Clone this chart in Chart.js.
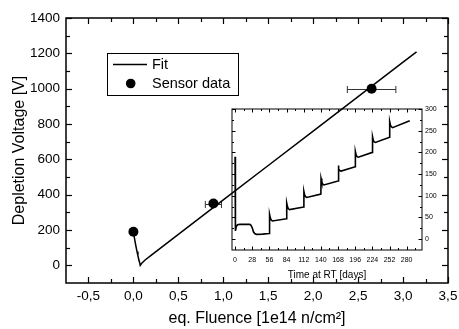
<!DOCTYPE html>
<html><head><meta charset="utf-8">
<script src="https://cdn.jsdelivr.net/npm/chart.js@4.4.0/dist/chart.umd.min.js"></script>
<style>
html,body{margin:0;padding:0;background:#fff;}
#wrap{position:relative;width:459px;height:329px;background:#fff;}
canvas{position:absolute;left:0;top:0;}
</style>
</head><body>
<div id="wrap"><canvas id="main" width="459" height="329"></canvas><canvas id="inset" width="459" height="329"></canvas></div>
<script>
// ---- data ----
const fitFluence = [0, 0.01, 0.02, 0.03, 0.04, 0.05, 0.06, 0.07, 0.076, 0.09, 0.11, 0.13, 0.2, 0.5, 1.0, 1.5, 2.0, 2.5, 3.0, 3.15];
const fitVoltage = [190, 158, 130, 103, 78, 55, 34, 14, 0, 10, 20, 30, 58, 175, 370, 565, 760, 955, 1150, 1208];
const sensorFluence = [0, 0.89, 2.65];
const sensorVoltage = [190, 350, 1000];
const sensorFluenceErr = [0, 0.09, 0.27];
const xTickValues = [-0.5, 0, 0.5, 1, 1.5, 2, 2.5, 3, 3.5];
const xTickLabels = ['-0,5', '0,0', '0,5', '1,0', '1,5', '2,0', '2,5', '3,0', '3,5'];
const xMinorValues = [-0.25, 0.25, 0.75, 1.25, 1.75, 2.25, 2.75, 3.25];
const yTickValues = [0, 200, 400, 600, 800, 1000, 1200, 1400];
const yMinorValues = [100, 300, 500, 700, 900, 1100, 1300];

const insetDays = [0, 0.6, 2, 4, 8, 24, 26, 28, 30, 32, 35, 45, 56,
  56.3, 57.5, 59, 61, 84,
  84.3, 85.5, 87, 89, 112,
  112.3, 113.5, 115, 117, 140,
  140.3, 141.5, 143, 145, 168,
  168.3, 169.5, 171, 173, 196,
  196.3, 197.5, 199, 201, 224,
  224.3, 225.5, 227, 229, 252,
  252.3, 253.5, 255, 257, 285];
const insetVoltage = [190, 19, 29, 33, 34, 34, 32, 26, 17, 13, 11, 11.5, 13,
  57, 49, 44, 42, 47,
  83, 75, 70, 68, 74,
  110, 102, 98, 96, 104,
  140, 132, 127, 125, 134,
  170, 162, 158, 157, 167,
  202, 194, 190, 189, 200,
  236, 228, 224, 223, 235,
  271, 263, 259, 257, 273];
const insetXTicks = [0, 28, 56, 84, 112, 140, 168, 196, 224, 252, 280];
const insetXMinor = [14, 42, 70, 98, 126, 154, 182, 210, 238, 266, 294];
const insetYTicks = [0, 50, 100, 150, 200, 250, 300];
const insetYMinor = [25, 75, 125, 175, 225, 275];

Chart.defaults.color = '#000';
Chart.defaults.font.family = '"Liberation Sans", Arial, sans-serif';

function seg(ctx, x1, y1, x2, y2) { ctx.beginPath(); ctx.moveTo(x1, y1); ctx.lineTo(x2, y2); ctx.stroke(); }
function noPadH(s, h) { s.height = h; s.paddingLeft = 0; s.paddingRight = 0; }
function noPadV(s, w) { s.width = w; s.paddingTop = 0; s.paddingBottom = 0; }

const frameTicks = {
  id: 'frameTicks',
  afterDraw(chart, args, o) {
    const {ctx, chartArea: a, scales} = chart;
    const xs = scales.x, ys = scales.y;
    ctx.save();
    ctx.strokeStyle = '#000';
    ctx.lineWidth = o.lineWidth;
    ctx.strokeRect(a.left, a.top, a.right - a.left, a.bottom - a.top);
    ctx.lineWidth = o.tickWidth;
    const dx = (vals, len) => vals.forEach(v => { const p = Math.round(xs.getPixelForValue(v)) + 0.5; seg(ctx, p, a.bottom, p, a.bottom - len); seg(ctx, p, a.top, p, a.top + len); });
    const dy = (vals, len) => vals.forEach(v => { const p = Math.round(ys.getPixelForValue(v)) + 0.5; seg(ctx, a.left, p, a.left + len, p); seg(ctx, a.right, p, a.right - len, p); });
    dx(o.xMajor, o.majorLen); dx(o.xMinor, o.minorLen);
    dy(o.yMajor, o.majorLen); dy(o.yMinor, o.minorLen);
    ctx.restore();
  }
};

const errorBars = {
  id: 'errorBars',
  beforeDatasetsDraw(chart) {
    const {ctx, scales: {x, y}} = chart;
    ctx.save();
    ctx.strokeStyle = '#333';
    ctx.lineWidth = 1;
    sensorFluence.forEach((f, i) => {
      const e = sensorFluenceErr[i];
      if (!e) return;
      const py = Math.round(y.getPixelForValue(sensorVoltage[i])) + 0.5;
      const x1 = x.getPixelForValue(f - e), x2 = x.getPixelForValue(f + e);
      seg(ctx, x1, py, x2, py);
      seg(ctx, x1, py - 3.5, x1, py + 3.5);
      seg(ctx, x2, py - 3.5, x2, py + 3.5);
    });
    ctx.restore();
  }
};

const legendBox = {
  id: 'legendBox',
  afterDraw(chart) {
    const ctx = chart.ctx, ds = chart.data.datasets;
    ctx.save();
    ctx.strokeStyle = '#000';
    ctx.lineWidth = 1;
    ctx.strokeRect(107.5, 53.5, 131, 42);
    ctx.lineWidth = 1.5;
    seg(ctx, 113, 64.5, 147, 64.5);
    ctx.fillStyle = '#000';
    ctx.font = '14.5px "Liberation Sans", Arial, sans-serif';
    ctx.textBaseline = 'middle';
    ctx.fillText(ds[0].label, 152, 65);
    ctx.beginPath(); ctx.arc(130.7, 83.5, 4.8, 0, Math.PI * 2); ctx.fill();
    ctx.fillText(ds[1].label, 152, 84);
    ctx.restore();
  }
};

new Chart(document.getElementById('main'), {
  type: 'scatter',
  data: {
    datasets: [
      { label: 'Fit', data: fitFluence.map((x, i) => ({x, y: fitVoltage[i]})), showLine: true, pointRadius: 0, borderColor: '#000', borderWidth: 1.5, tension: 0, order: 2 },
      { label: 'Sensor data', data: sensorFluence.map((x, i) => ({x, y: sensorVoltage[i]})), pointRadius: 5, pointBackgroundColor: '#000', pointBorderColor: '#000', pointBorderWidth: 0, showLine: false, order: 1 }
    ]
  },
  options: {
    responsive: false, animation: false, devicePixelRatio: 1, events: [],
    layout: { padding: { left: 0, top: 18, right: 11, bottom: 0 } },
    plugins: {
      legend: { display: false }, tooltip: { enabled: false },
      frameTicks: { lineWidth: 1.5, tickWidth: 1.2, majorLen: 6, minorLen: 4, xMajor: xTickValues, xMinor: xMinorValues, yMajor: yTickValues, yMinor: yMinorValues }
    },
    scales: {
      x: {
        type: 'linear', min: -0.75, max: 3.5,
        afterBuildTicks: s => { s.ticks = xTickValues.map(v => ({value: v})); },
        afterFit: s => noPadH(s, 46),
        grid: { display: false, drawTicks: false }, border: { display: false },
        ticks: { padding: 5, font: { size: 13.5 }, maxRotation: 0, autoSkip: false, callback: (v) => xTickLabels[xTickValues.indexOf(v)] },
        title: { display: true, text: 'eq. Fluence [1e14 n/cm²]', font: { size: 16 }, padding: { top: 0, bottom: 1 } }
      },
      y: {
        type: 'linear', min: -100, max: 1400,
        afterBuildTicks: s => { s.ticks = yTickValues.map(v => ({value: v})); },
        afterFit: s => noPadV(s, 66),
        grid: { display: false, drawTicks: false }, border: { display: false },
        ticks: { padding: 6, font: { size: 13.5 }, autoSkip: false, callback: v => String(v) },
        title: { display: true, text: 'Depletion Voltage [V]', font: { size: 16 }, padding: { top: 9.5, bottom: 0 } }
      }
    }
  },
  plugins: [frameTicks, errorBars, legendBox]
});

new Chart(document.getElementById('inset'), {
  type: 'scatter',
  data: {
    datasets: [
      { label: 'Annealing', data: insetDays.map((x, i) => ({x, y: insetVoltage[i]})), showLine: true, pointRadius: 0, borderColor: '#000', borderWidth: 1.6, tension: 0 }
    ]
  },
  options: {
    responsive: false, animation: false, devicePixelRatio: 1, events: [],
    layout: { padding: { left: 232, top: 109, right: 0, bottom: 47 } },
    plugins: {
      legend: { display: false }, tooltip: { enabled: false },
      frameTicks: { lineWidth: 1, tickWidth: 1, majorLen: 3.5, minorLen: 2, xMajor: insetXTicks, xMinor: insetXMinor, yMajor: insetYTicks, yMinor: insetYMinor }
    },
    scales: {
      x: {
        type: 'linear', min: -5, max: 305,
        afterBuildTicks: s => { s.ticks = insetXTicks.map(v => ({value: v})); },
        afterFit: s => noPadH(s, 32),
        grid: { display: false, drawTicks: false }, border: { display: false },
        ticks: { padding: 5.5, font: { size: 7 }, maxRotation: 0, autoSkip: false, callback: v => String(v) },
        title: { display: true, text: 'Time at RT [days]', font: { size: 10 }, padding: { top: 0, bottom: 1 } }
      },
      y: {
        type: 'linear', position: 'right', min: -25, max: 300,
        afterBuildTicks: s => { s.ticks = insetYTicks.map(v => ({value: v})); },
        afterFit: s => noPadV(s, 37),
        grid: { display: false, drawTicks: false }, border: { display: false },
        ticks: { padding: 3, font: { size: 7 }, autoSkip: false, callback: v => String(v) }
      }
    }
  },
  plugins: [frameTicks]
});
</script>
</body></html>
